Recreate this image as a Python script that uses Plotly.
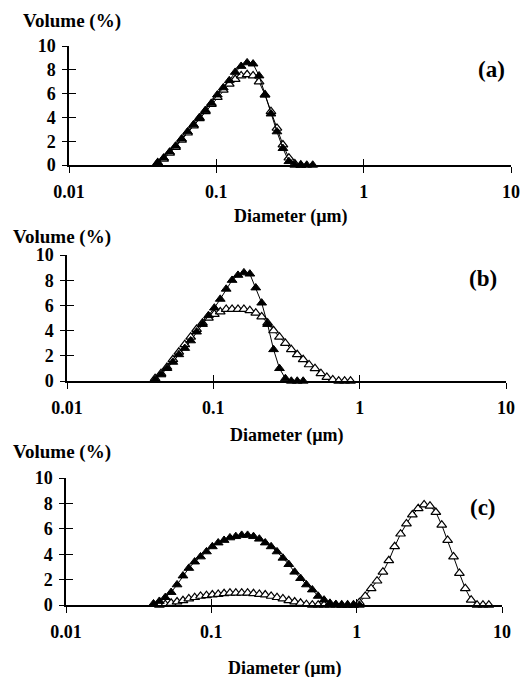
import plotly.graph_objects as go

# Diameter bins (µm)
DIAM = [0.0400, 0.0439, 0.0482, 0.0529, 0.0581, 0.0638, 0.0700, 0.0768, 0.0843, 0.0926,
        0.1016, 0.1115, 0.1224, 0.1343, 0.1474, 0.1618, 0.1776, 0.1950, 0.2140, 0.2349,
        0.2579, 0.2831, 0.3107, 0.3411, 0.3744, 0.4110, 0.4511, 0.4952, 0.5435, 0.5966,
        0.6549, 0.7189, 0.7891, 0.8662, 0.9509, 1.0440, 1.1460, 1.2580, 1.3810, 1.5160,
        1.6640, 1.8260, 2.0050, 2.2010, 2.4160, 2.6520, 2.9110, 3.1950, 3.5070, 3.8500,
        4.2260, 4.6390, 5.0920, 5.5890, 6.1350, 6.7350, 7.3930, 8.1150]

# Panel (a)
A_FILLED_START = 0
A_FILLED = [0.2, 0.6, 1.1, 1.6, 2.2, 2.8, 3.4, 4.0, 4.6, 5.2, 5.9, 6.5, 7.1, 7.8, 8.3, 8.6,
            8.5, 7.5, 5.9, 4.3, 2.8, 1.4, 0.3, 0.0, 0.0, 0.0, 0.0]
A_OPEN_START = 0
A_OPEN = [0.2, 0.5, 1.0, 1.5, 2.1, 2.7, 3.3, 3.9, 4.5, 5.1, 5.7, 6.3, 6.8, 7.2, 7.5, 7.6,
          7.5, 7.0, 5.9, 4.5, 3.1, 1.7, 0.6, 0.1, 0.0]

# Panel (b)
B_FILLED_START = 0
B_FILLED = [0.1, 0.5, 1.0, 1.5, 2.1, 2.6, 3.2, 3.9, 4.5, 5.2, 5.8, 6.5, 7.3, 8.0, 8.4, 8.6,
            8.5, 7.4, 6.2, 4.5, 2.5, 1.0, 0.2, 0.0, 0.0, 0.0]
B_OPEN_START = 0
B_OPEN = [0.2, 0.6, 1.1, 1.7, 2.3, 2.9, 3.5, 4.1, 4.6, 5.0, 5.3, 5.5, 5.7, 5.7, 5.7, 5.7,
          5.6, 5.4, 5.1, 4.6, 4.0, 3.5, 3.0, 2.5, 2.1, 1.7, 1.3, 1.0, 0.6, 0.3, 0.1, 0.0,
          0.0, 0.0]

# Panel (c)
C_FILLED_START = 0
C_FILLED = [0.1, 0.3, 0.6, 1.0, 1.6, 2.3, 2.9, 3.4, 3.8, 4.2, 4.6, 4.9, 5.1, 5.3, 5.4, 5.5,
            5.5, 5.4, 5.2, 4.9, 4.6, 4.2, 3.7, 3.2, 2.6, 2.1, 1.6, 1.2, 0.7, 0.4, 0.15, 0.05,
            0.0, 0.0, 0.0, 0.0]
C_OPEN_START = 1
C_OPEN = [0.0, 0.05, 0.15, 0.25, 0.35, 0.5, 0.6, 0.7, 0.75, 0.8, 0.85, 0.9, 0.95, 0.95,
          0.95, 0.95, 0.9, 0.85, 0.8, 0.7, 0.6, 0.5, 0.35, 0.25, 0.15, 0.05, 0.0, 0.0, 0.0,
          0.0, 0.0, 0.0, 0.0, 0.0, 0.2, 0.7, 1.3, 1.9, 2.6, 3.5, 4.6, 5.6, 6.4, 7.1, 7.6,
          7.9, 7.8, 7.3, 6.3, 5.1, 3.8, 2.5, 1.3, 0.4, 0.0, 0.0, 0.0]

X_TICKS = [0.01, 0.1, 1, 10]
X_TICKTEXT = ["0.01", "0.1", "1", "10"]
Y_TICKS = [0, 2, 4, 6, 8, 10]
PANEL_LABELS = ["(a)", "(b)", "(c)"]
X_TITLE = "Diameter (µm)"
Y_TITLE = "Volume (%)"

W, H = 526, 677
FONT = "Liberation Serif"

# pixel geometry of each panel: (x_left, x_right, y_zero, y_ten)
PANELS = [(69, 511, 165, 46), (67, 506, 381, 255), (66, 502, 605, 478)]
TITLE_Y = [216, 435, 668]
VOL_POS = [(72, 21), (62, 237), (62, 452)]
LAB_POS = [(491, 69), (483, 278), (483, 507)]

SERIES = [
    ((A_OPEN_START, A_OPEN), (A_FILLED_START, A_FILLED)),
    ((B_OPEN_START, B_OPEN), (B_FILLED_START, B_FILLED)),
    ((C_OPEN_START, C_OPEN), (C_FILLED_START, C_FILLED)),
]

fig = go.Figure()
tickfont = dict(family=FONT, size=18, color="black", weight="bold")

for i, (pan, ser) in enumerate(zip(PANELS, SERIES)):
    n = i + 1
    xs = "" if n == 1 else str(n)
    xl, xr, y0, y10 = pan
    xdom = [xl / W, xr / W]
    ydom = [1 - y0 / H, 1 - y10 / H]
    (os_, ov), (fs_, fv) = ser
    fig.add_trace(go.Scatter(
        x=DIAM[os_:os_ + len(ov)], y=ov, mode="lines+markers",
        line=dict(color="black", width=1),
        marker=dict(symbol="triangle-up", size=8.5, color="white",
                    line=dict(color="black", width=1.2)),
        xaxis="x" + xs, yaxis="y" + xs, cliponaxis=False, showlegend=False))
    fig.add_trace(go.Scatter(
        x=DIAM[fs_:fs_ + len(fv)], y=fv, mode="lines+markers",
        line=dict(color="black", width=1),
        marker=dict(symbol="triangle-up", size=8.5, color="black",
                    line=dict(color="black", width=1)),
        xaxis="x" + xs, yaxis="y" + xs, cliponaxis=False, showlegend=False))
    # dummy trace for overlay axes (inner tick halves)
    m = n + 3
    fig.add_trace(go.Scatter(x=[None], y=[None], xaxis="x%d" % m, yaxis="y%d" % m,
                             showlegend=False, hoverinfo="skip"))

    fig.update_layout(**{
        "xaxis" + xs: dict(domain=xdom, anchor="y" + xs, type="log", range=[-2, 1],
                           tickvals=X_TICKS, ticktext=X_TICKTEXT, ticks="outside",
                           ticklen=6, tickwidth=1.2, tickcolor="black",
                           showline=True, linecolor="black", linewidth=1.5,
                           showgrid=False, zeroline=False, tickfont=tickfont,
                           ticklabelstandoff=4, automargin=False),
        "yaxis" + xs: dict(domain=ydom, anchor="x" + xs, range=[0, 10],
                           tickvals=Y_TICKS, ticks="outside", ticklen=5,
                           tickwidth=1.2, tickcolor="black",
                           showline=True, linecolor="black", linewidth=1.5,
                           showgrid=False, zeroline=False, tickfont=tickfont,
                           ticklabelstandoff=3, automargin=False),
        "xaxis%d" % m: dict(overlaying="x" + xs, anchor="y" + xs, type="log",
                            range=[-2, 1], tickvals=X_TICKS, ticks="inside",
                            ticklen=6, tickwidth=1.2, tickcolor="black",
                            showticklabels=False, showline=False, showgrid=False,
                            zeroline=False, automargin=False),
        "yaxis%d" % m: dict(overlaying="y" + xs, anchor="x" + xs, range=[0, 10],
                            tickvals=Y_TICKS, ticks="inside", ticklen=7,
                            tickwidth=1.2, tickcolor="black",
                            showticklabels=False, showline=False, showgrid=False,
                            zeroline=False, automargin=False),
    })

    cx = (xl + xr) / 2
    fig.add_annotation(x=cx / W, y=1 - TITLE_Y[i] / H, xref="paper", yref="paper",
                       text=X_TITLE, showarrow=False, xanchor="center", yanchor="middle",
                       font=dict(family=FONT, size=18, color="black", weight="bold"))
    vx, vy = VOL_POS[i]
    fig.add_annotation(x=vx / W, y=1 - vy / H, xref="paper", yref="paper",
                       text=Y_TITLE, showarrow=False, xanchor="center", yanchor="middle",
                       font=dict(family=FONT, size=19, color="black", weight="bold"))
    lx, ly = LAB_POS[i]
    fig.add_annotation(x=lx / W, y=1 - ly / H, xref="paper", yref="paper",
                       text=PANEL_LABELS[i], showarrow=False, xanchor="center",
                       yanchor="middle",
                       font=dict(family=FONT, size=23, color="black", weight="bold"))

fig.update_layout(template="none", width=W, height=H,
                  margin=dict(l=0, r=0, t=0, b=0, pad=0),
                  paper_bgcolor="white", plot_bgcolor="white", showlegend=False)

fig.write_html("out.html")
